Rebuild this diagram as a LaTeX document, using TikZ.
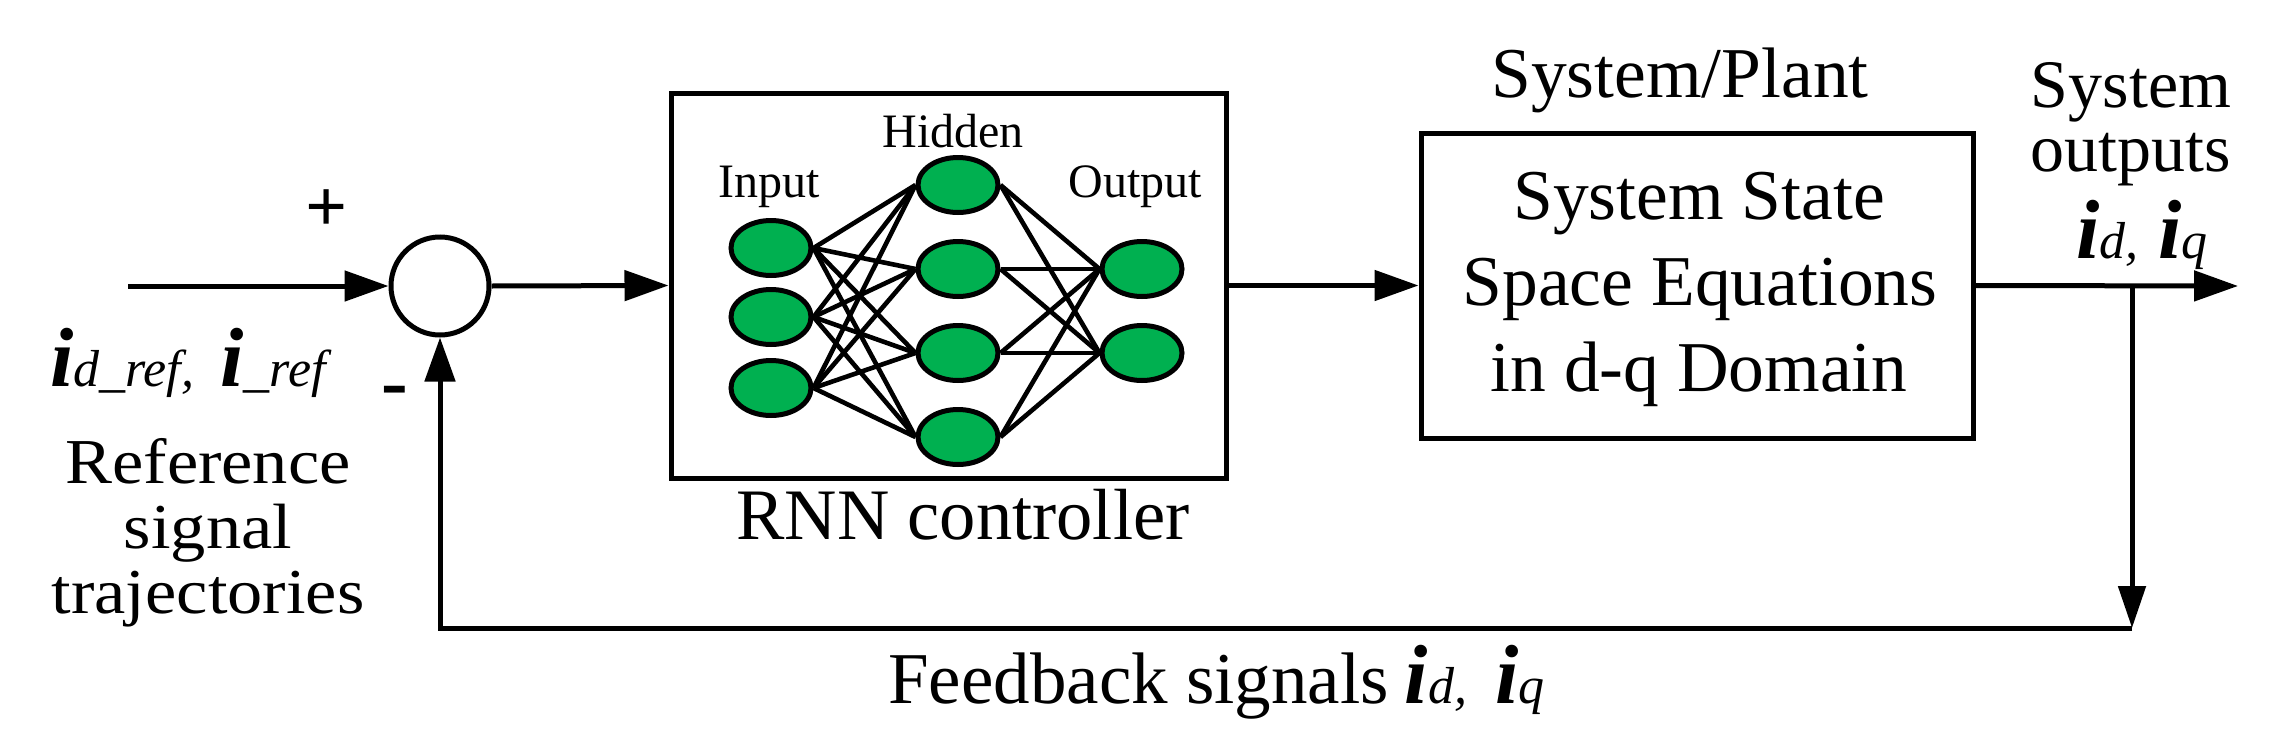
\documentclass[tikz,border=0pt]{standalone}
\usepackage{fontspec}
\setmainfont{Liberation Serif}
\newfontfamily\widefont{Liberation Serif}[FakeStretch=1.1]
\usetikzlibrary{arrows.meta,shapes.geometric}
\newcommand\myfs[1]{\fontsize{#1}{#1}\selectfont}
\newcommand\bigi{{\myfs{84}\bfseries\itshape i}}
\newcommand\subt[1]{{\myfs{52}\itshape #1}}
\definecolor{nngreen}{RGB}{0,176,80}
\tikzset{
  wire/.style={line width=5pt},
  arr/.style={-{Triangle[length=44pt,width=30pt]}},
  block/.style={draw, line width=5pt, inner sep=0pt, rectangle},
  neuron/.style={ellipse, draw, line width=5pt, fill=nngreen, minimum width=80pt, minimum height=55pt, inner sep=0pt},
  syn/.style={line width=4.6pt},
  lbl/.style={inner sep=0pt, anchor=base},
  lblw/.style={inner sep=0pt, anchor=base west},
}
\begin{document}
\begin{tikzpicture}[x=1pt,y=-1pt]
\useasboundingbox (0,0) rectangle (2275,744);

% blocks
\node[circle, draw, line width=5pt, minimum size=98pt, inner sep=0pt] (sum) at (440,286) {};
\node[block, minimum width=555pt, minimum height=385pt] (rnn) at (948.5,285.5) {};
\node[block, minimum width=552pt, minimum height=305pt] (plant) at (1697,285.5) {};

% neural network
\node[neuron] (i1) at (771,248) {};
\node[neuron] (i2) at (771,317) {};
\node[neuron] (i3) at (771,388) {};
\node[neuron] (h1) at (958,185) {};
\node[neuron] (h2) at (958,269) {};
\node[neuron] (h3) at (958,353) {};
\node[neuron] (h4) at (958,437) {};
\node[neuron] (o1) at (1142,269) {};
\node[neuron] (o2) at (1142,353) {};
\foreach \a in {i1,i2,i3}
  \foreach \b in {h1,h2,h3,h4}
    \draw[syn] (\a.east) -- (\b.west);
\foreach \a in {h1,h2,h3,h4}
  \foreach \b in {o1,o2}
    \draw[syn] (\a.east) -- (\b.west);

% connectors
\coordinate (in) at (128,286);
\coordinate (out) at (2238,286);
\coordinate (br) at (2132,286);
\coordinate (fbr) at (2132,628);
\coordinate (fbl) at (440,628);
\draw[wire,arr] (in) -- (sum.west);
\draw[wire,arr] (sum.east) -- (rnn.west);
\draw[wire,arr] (rnn.east) -- (plant.west);
\draw[wire,arr] (plant.east) -- (out);
\draw[wire,-{Triangle[length=42pt,width=27pt]}] (br) -- (fbr);
\draw[wire,arr] (fbr) -- (fbl) -- (sum.south);

% texts
\node[lbl] (plus) at (327,231) {\myfs{74}\bfseries +};
\node[lbl] (minus) at (395,408) {\myfs{80}\bfseries -};
\node[lblw] (iref) at (50,386) {\bigi\subt{d\_ref,}\hspace{26pt}\bigi\subt{\_ref}};
\node[inner sep=0pt, align=center, font=\widefont\fontsize{64}{65}\selectfont] (reftxt) at (208,533) {Reference\\signal\\trajectories};

\node[lbl] (tin) at (769,197) {\myfs{48}Input};
\node[lbl] (thid) at (953,147) {\myfs{48}Hidden};
\node[lbl] (tout) at (1135,197) {\myfs{48}Output};
\node[lbl] (trnn) at (963,539) {\myfs{72.5}RNN controller};

\node[lbl] (tplant) at (1680,97) {\myfs{71.5}System/Plant};
\node[lbl] (ps1) at (1699,219) {\myfs{71.5}System State};
\node[lbl] (ps2) at (1700,305) {\myfs{71.5}Space Equations};
\node[lbl] (ps3) at (1699,391) {\myfs{71.5}in d-q Domain};

\node[inner sep=0pt, align=center, font=\fontsize{68}{64}\selectfont] (sotxt) at (2131,124) {System\\outputs};
\node[lblw] (sout) at (2076,258) {\bigi\subt{d,}\hspace{20pt}\bigi\subt{q}};

\node[lblw] (fb) at (888,703) {\myfs{73}Feedback signals\hspace{16pt}\bigi\subt{d,}\hspace{28pt}\bigi\subt{q}};
\end{tikzpicture}
\end{document}
